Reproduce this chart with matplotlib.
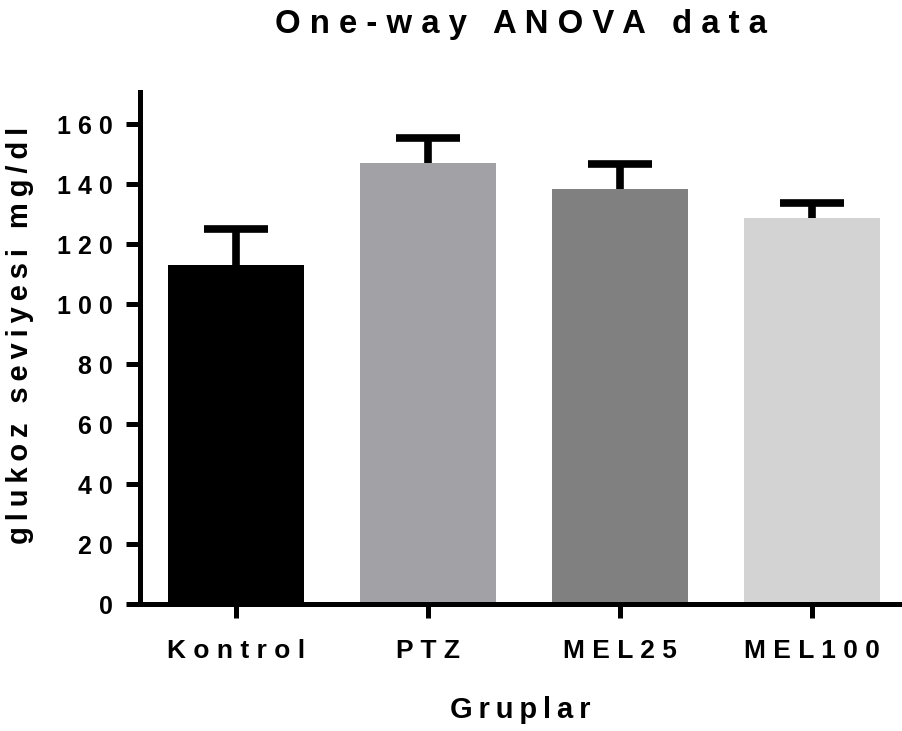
import matplotlib
matplotlib.use("Agg")
from matplotlib import pyplot as plt
import numpy as np

# group means and upper error (SEM) of glucose level
groups = ['Kontrol', 'PTZ', 'MEL25', 'MEL100']
means = [113, 147, 138.3, 128.9]
sem = [12.2, 8.3, 8.5, 4.8]
colors = ['#000000', '#A2A1A6', '#808080', '#D3D3D3']
yticks = [0, 20, 40, 60, 80, 100, 120, 140, 160]

plt.rcParams['font.family'] = ['Liberation Sans', 'DejaVu Sans']
plt.rcParams['font.weight'] = 'bold'

def spaced(s, gap=' '):
    # wide letter spacing, words get an extra space
    return (gap + ' ' + gap).join(gap.join(w) for w in s.split(' '))

fig = plt.figure(figsize=(9.02, 7.31), dpi=100)
ax = fig.add_axes([140/902, (731-604.3)/731, 760/902, 512.3/731])

x = np.arange(len(groups))
ax.bar(x, means, width=0.708, color=colors, zorder=2)
eb = ax.errorbar(x, means, yerr=[np.zeros(len(sem)), sem], fmt='none', ecolor='black',
                 elinewidth=5.5, capsize=23, capthick=5.5, zorder=3)
# only the upper cap is shown
eb[1][0].set_visible(False)

ax.set_xlim(-0.5, 3.46)
ax.set_ylim(0, 170.8)
ax.set_yticks(yticks)
ax.set_yticklabels([spaced(str(v)) for v in yticks], fontsize=18, fontweight='bold')
ax.set_xticks(x)
ax.set_xticklabels([spaced(g) for g in groups], fontsize=19, fontweight='bold')

for side in ['top', 'right']:
    ax.spines[side].set_visible(False)
for side in ['left', 'bottom']:
    ax.spines[side].set_linewidth(3.6)
ax.tick_params(axis='both', length=10, width=3.6)
ax.tick_params(axis='y', pad=9.4)
ax.tick_params(axis='x', pad=15)

ax.set_ylabel(spaced('glukoz seviyesi mg/dl', '\u2009'), fontsize=21, fontweight='bold')
ax.yaxis.set_label_coords((34-140)/760, 0.525)
ax.set_xlabel(spaced('Gruplar', '\u2009'), fontsize=21, fontweight='bold')
ax.xaxis.set_label_coords(0.5, (604.3-696)/512.3)
fig.text(0.578, 0.966, spaced('One-way ANOVA data'), ha='center', va='center',
         fontsize=23.7, fontweight='bold')

fig.savefig('out.png', dpi=100)
